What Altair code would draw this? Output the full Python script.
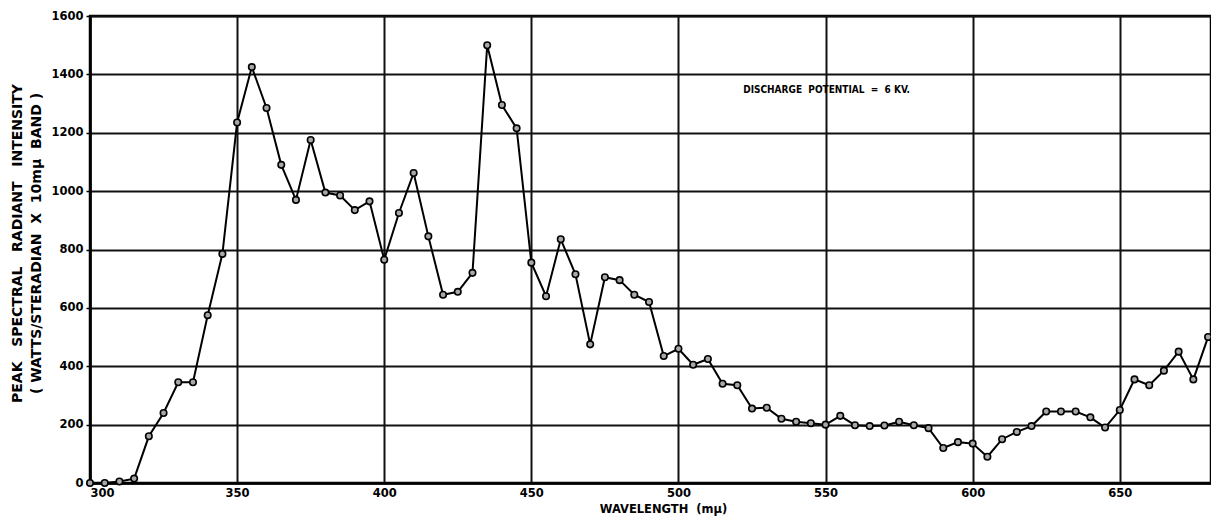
import altair as alt
import pandas as pd

wavelength = [300, 305, 310, 315, 320, 325, 330, 335, 340, 345,
              350, 355, 360, 365, 370, 375, 380, 385, 390, 395,
              400, 405, 410, 415, 420, 425, 430, 435, 440, 445,
              450, 455, 460, 465, 470, 475, 480, 485, 490, 495,
              500, 505, 510, 515, 520, 525, 530, 535, 540, 545,
              550, 555, 560, 565, 570, 575, 580, 585, 590, 595,
              600, 605, 610, 615, 620, 625, 630, 635, 640, 645,
              650, 655, 660, 665, 670, 675, 680]
intensity = [0, 0, 5, 15, 160, 240, 345, 345, 575, 785,
             1235, 1425, 1285, 1090, 970, 1175, 995, 985, 935, 965,
             765, 925, 1062, 845, 645, 655, 720, 1500, 1295, 1215,
             755, 640, 835, 715, 475, 705, 695, 645, 620, 435,
             460, 405, 425, 340, 335, 255, 258, 220, 210, 205,
             200, 230, 198, 195, 197, 210, 198, 188, 120, 140,
             135, 90, 150, 175, 195, 245, 245, 245, 225, 190,
             250, 355, 335, 385, 450, 355, 500]

x_ticks = [300, 350, 400, 450, 500, 550, 600, 650]
y_ticks = [0, 200, 400, 600, 800, 1000, 1200, 1400, 1600]

NB = "\u00a0"
note_text = ["DISCHARGE" + NB + " POTENTIAL" + NB + " = " + NB + "6 KV."]
note_x = [522]
note_y = [1345]

x_title = "WAVELENGTH" + NB + " (mμ)"
y_title = ["PEAK" + NB + NB + " SPECTRAL" + NB + NB + " RADIANT" + NB + NB + " INTENSITY",
           "( WATTS/STERADIAN" + NB + " X" + NB + " 10mμ" + NB + " BAND )"]

df = pd.DataFrame({"wl": wavelength, "val": intensity})
note_df = pd.DataFrame({"x": note_x, "y": note_y, "t": note_text})

FONT = "DejaVu Sans"
FONT_C = "DejaVu Sans Condensed"

x_enc = alt.X("wl:Q", scale=alt.Scale(domain=[300, 681], nice=False, zero=False),
              axis=alt.Axis(values=x_ticks, title=x_title, format="d",
                            grid=True, gridColor="#111111", gridWidth=2, gridOpacity=1,
                            domain=True, domainColor="black", domainWidth=2.5,
                            ticks=False, labelPadding=4,
                            labelFont=FONT, labelFontWeight="bold", labelFontSize=11.5, labelColor="black",
                            titleFont=FONT, titleFontWeight="bold", titleFontSize=11.5, titleColor="black",
                            titlePadding=5, titleX=573))
y_enc = alt.Y("val:Q", scale=alt.Scale(domain=[0, 1600], nice=False),
              axis=alt.Axis(values=y_ticks, format="d", title=y_title,
                            grid=True, gridColor="#111111", gridWidth=2, gridOpacity=1,
                            domain=True, domainColor="black", domainWidth=2.5,
                            ticks=True, tickSize=4, tickColor="black", tickWidth=1.5,
                            labelPadding=3,
                            labelFont=FONT, labelFontWeight="bold", labelFontSize=11.5, labelColor="black",
                            titleFont=FONT, titleFontWeight="bold", titleFontSize=14, titleColor="black",
                            titlePadding=7, titleLineHeight=19, titleY=227))

line = alt.Chart(df).mark_line(color="black", strokeWidth=2).encode(x=x_enc, y=y_enc)
pts = alt.Chart(df).mark_point(shape="circle", size=42, filled=True, fill="#a8a8a8",
                               stroke="black", strokeWidth=1.6, opacity=1).encode(
    x="wl:Q", y="val:Q")
note = alt.Chart(note_df).mark_text(align="left", baseline="middle", font=FONT_C,
                                    fontWeight="bold", fontSize=10, color="black").encode(
    x="x:Q", y="y:Q", text="t:N")

chart = (line + pts + note).properties(
    width=1121, height=467,
    autosize=alt.AutoSizeParams(type="none"),
    padding={"left": 82, "top": 8, "right": 0, "bottom": 34},
    background="white",
).configure_view(stroke="black", strokeWidth=2.5)

chart.save("out.html", embed_options={"renderer": "svg", "actions": False})
